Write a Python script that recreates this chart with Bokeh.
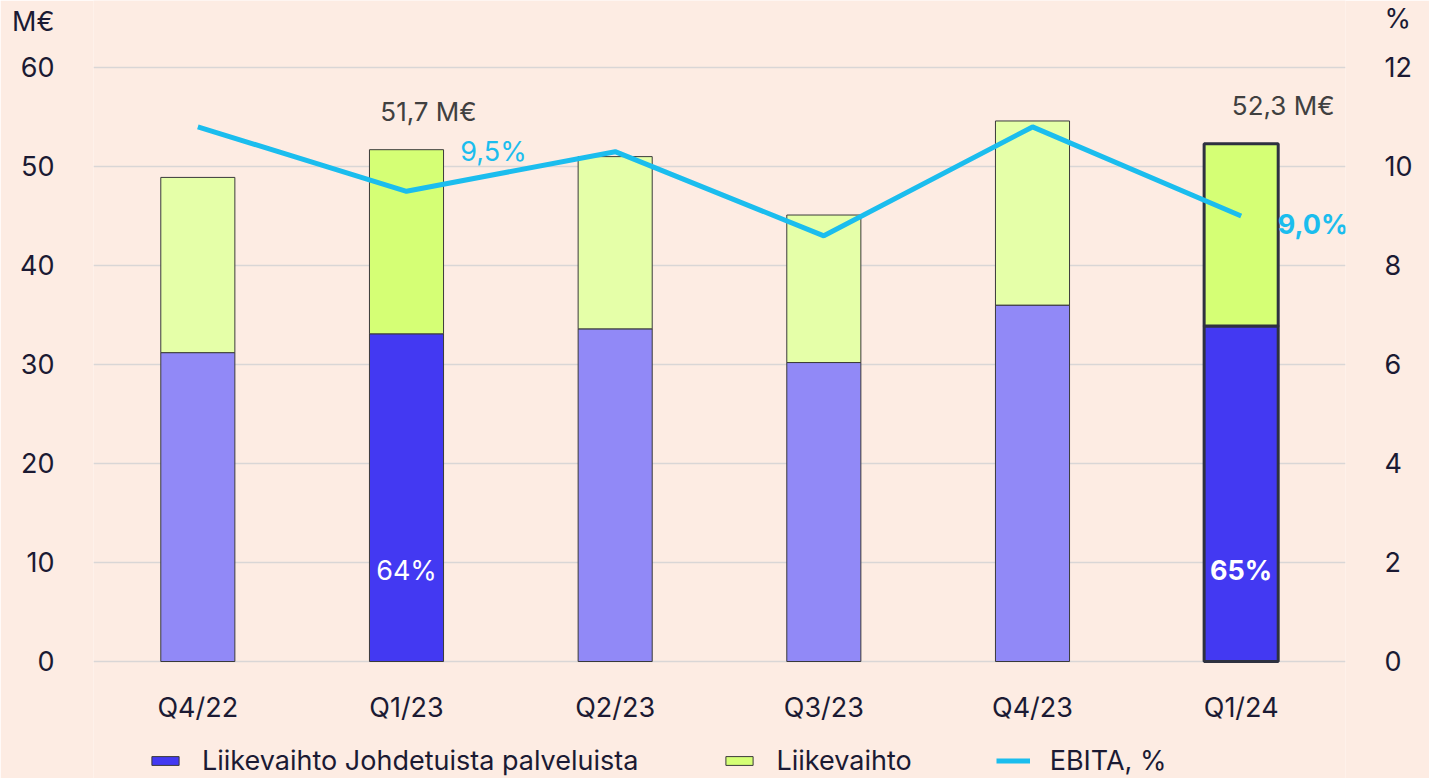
from bokeh.plotting import figure
from bokeh.models import (ColumnDataSource, Range1d, LinearAxis, FixedTicker,
                          Legend, LegendItem, Label)
from bokeh.core.properties import value
from bokeh.embed import file_html
from bokeh.resources import INLINE

# ---- data ----
quarters = ["Q4/22", "Q1/23", "Q2/23", "Q3/23", "Q4/23", "Q1/24"]
services = [31.2, 33.1, 33.6, 30.2, 36.0, 33.9]      # Liikevaihto Johdetuista palveluista, M€
totals = [48.9, 51.7, 51.0, 45.1, 54.6, 52.3]         # Liikevaihto, M€
ebita_pct = [10.8, 9.5, 10.3, 8.6, 10.8, 9.0]         # EBITA, %
highlight = [False, True, False, False, False, True]
share_labels = {"Q1/23": "64%", "Q1/24": "65%"}
total_labels = {"Q1/23": "51,7 M€", "Q1/24": "52,3 M€"}
ebita_labels = {"Q1/23": "9,5%", "Q1/24": "9,0%"}
left_ticks = [0, 10, 20, 30, 40, 50, 60]
right_ticks = [0, 2, 4, 6, 8, 10, 12]
left_unit, right_unit = "M€", "%"

# ---- styles ----
BG = "#FDECE3"
FONT = "Inter"
TXT = "#1B1A33"
P_LIGHT, P_DARK = "#9189F7", "#4339F2"
G_LIGHT, G_DARK = "#E5FFA8", "#D5FF75"
CYAN = "#1BBDEE"
# the frame covers the full canvas height; category captions and legend sit below y=0
LEFT_RANGE = (-11.818, 66.77)
RIGHT_RANGE = (-2.3636, 13.354)
LEFT_UNIT_POS, RIGHT_UNIT_POS = 64.6, 13.0

src = ColumnDataSource(dict(
    q=quarters,
    zero=[0] * len(quarters),
    serv=services,
    tot=totals,
    pct=ebita_pct,
    pfill=[P_DARK if h else P_LIGHT for h in highlight],
    gfill=[G_DARK if h else G_LIGHT for h in highlight],
    lc=["#2E3140" if q == "Q1/24" else "#3A3A3A" for q in quarters],
    lw=[3.0 if q == "Q1/24" else 1.0 for q in quarters],
))

p = figure(x_range=quarters, y_range=Range1d(*LEFT_RANGE),
           frame_width=1252, frame_height=778,
           output_backend="svg", toolbar_location=None,
           background_fill_color=BG, border_fill_color=BG,
           min_border_left=93, min_border_right=84, min_border_top=0,
           min_border_bottom=0)
p.outline_line_color = None
p.x_range.range_padding = 0
p.extra_y_ranges = {"pct": Range1d(*RIGHT_RANGE)}

r_serv = p.vbar(x="q", bottom="zero", top="serv", width=0.355, source=src,
                fill_color="pfill", line_color="lc", line_width="lw")
r_tot = p.vbar(x="q", bottom="serv", top="tot", width=0.355, source=src,
               fill_color="gfill", line_color="lc", line_width="lw")
r_line = p.line(x="q", y="pct", source=src, y_range_name="pct",
                line_color=CYAN, line_width=5)

# category captions under the bars
p.xaxis.visible = False
p.text(x="q", y="zero", text="q", source=src, y_offset=46,
       text_align="center", text_baseline="middle", text_color=TXT,
       text_font=value(FONT), text_font_size="27px")

# y axes (the unit captions sit as extra tick labels above the top tick)
p.yaxis.ticker = FixedTicker(ticks=left_ticks + [LEFT_UNIT_POS])
p.yaxis.major_label_overrides = {LEFT_UNIT_POS: left_unit}
p.xgrid.grid_line_color = None
p.ygrid.ticker = FixedTicker(ticks=left_ticks)
p.ygrid.grid_line_color = "#D9D6D6"
p.ygrid.grid_line_width = 1.5

right = LinearAxis(y_range_name="pct",
                   ticker=FixedTicker(ticks=right_ticks + [RIGHT_UNIT_POS]),
                   major_label_overrides={RIGHT_UNIT_POS: right_unit})
p.add_layout(right, "right")
for ax in [p.yaxis[0], right]:
    ax.axis_line_color = None
    ax.major_tick_line_color = None
    ax.minor_tick_line_color = None
    ax.major_label_text_font = FONT
    ax.major_label_text_font_size = "27px"
    ax.major_label_text_color = TXT
p.yaxis[0].major_label_standoff = 33
right.major_label_standoff = 33


def cx(q):
    # synthetic coordinate of a category's centre on the categorical x range
    return quarters.index(q) + 0.5


# data labels
tot_off = {"Q1/23": 22, "Q1/24": 42}
for q, t in total_labels.items():
    p.add_layout(Label(x=cx(q), y=totals[quarters.index(q)], x_offset=tot_off[q], y_offset=38,
                       text=t, text_align="center", text_baseline="middle",
                       text_color="#404040", text_font=FONT, text_font_size="26px"))

eb_off = {"Q1/23": (87, 40, "normal"), "Q1/24": (72, -8, "bold")}
for q, t in ebita_labels.items():
    xo, yo, fs = eb_off[q]
    p.add_layout(Label(x=cx(q), y=ebita_pct[quarters.index(q)], y_range_name="pct",
                       x_offset=xo, y_offset=yo, text=t, text_font_style=fs,
                       text_align="center", text_baseline="middle",
                       text_color=CYAN, text_font=FONT, text_font_size="27px"))

sh_style = {"Q1/23": "normal", "Q1/24": "bold"}
for q, t in share_labels.items():
    p.add_layout(Label(x=cx(q), y=9.2, text=t, text_font_style=sh_style[q],
                       text_align="center", text_baseline="middle",
                       text_color="white", text_font=FONT, text_font_size="27px"))

legend = Legend(items=[
    LegendItem(label="Liikevaihto Johdetuista palveluista", renderers=[r_serv], index=1),
    LegendItem(label="Liikevaihto", renderers=[r_tot], index=1),
    LegendItem(label="EBITA, %", renderers=[r_line]),
], orientation="horizontal", location=(55, 1),
    background_fill_alpha=0, border_line_color=None,
    label_text_font=FONT, label_text_font_size="27px", label_text_color=TXT,
    glyph_width=34, glyph_height=11, label_standoff=20, spacing=84,
    padding=0, margin=0)
p.add_layout(legend, "center")

open("out.html", "w").write(file_html(p, INLINE))
